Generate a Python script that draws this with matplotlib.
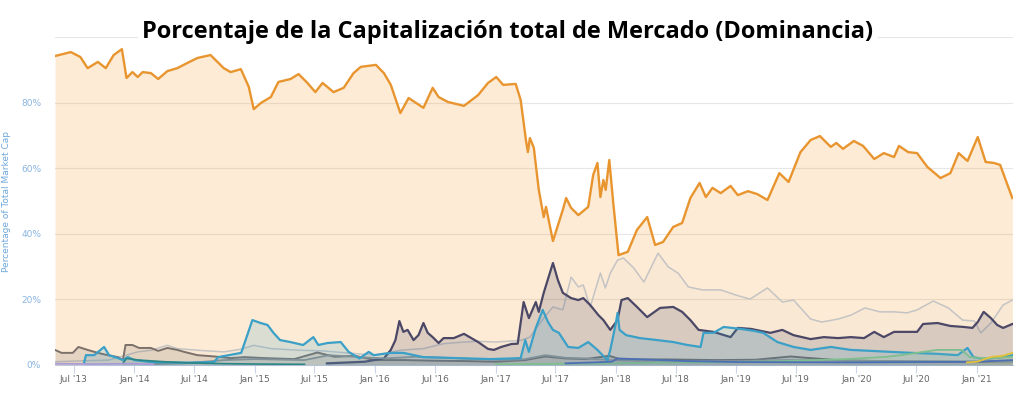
import numpy as np
import pandas as pd
import matplotlib
matplotlib.use("Agg")
import matplotlib.pyplot as plt
import matplotlib.dates as mdates

# Dominance (% of total market cap)
btc_dates = ["2013-05-05", "2013-06-22", "2013-07-21", "2013-08-12", "2013-09-12", "2013-10-06",
             "2013-10-30", "2013-11-24", "2013-12-08", "2013-12-26", "2014-01-11", "2014-01-26",
             "2014-02-20", "2014-03-14", "2014-04-11", "2014-05-11", "2014-06-11", "2014-07-11",
             "2014-08-20", "2014-09-29", "2014-10-20", "2014-11-20", "2014-12-14", "2014-12-29",
             "2015-01-20", "2015-02-19", "2015-03-14", "2015-04-20", "2015-05-14", "2015-06-10",
             "2015-07-04", "2015-07-26", "2015-08-28", "2015-09-28", "2015-10-28", "2015-11-19",
             "2016-01-04", "2016-01-19", "2016-01-28", "2016-02-18", "2016-03-18", "2016-04-12",
             "2016-05-27", "2016-06-24", "2016-07-12", "2016-08-09", "2016-09-27", "2016-11-09",
             "2016-12-09", "2017-01-03", "2017-01-24", "2017-03-03", "2017-03-18", "2017-04-03",
             "2017-04-09", "2017-04-15", "2017-04-27", "2017-05-12", "2017-05-27", "2017-06-03",
             "2017-06-24", "2017-07-24", "2017-08-03", "2017-08-18", "2017-09-09", "2017-10-09",
             "2017-10-24", "2017-11-06", "2017-11-15", "2017-11-24", "2017-12-01", "2017-12-12",
             "2017-12-24", "2018-01-09", "2018-02-06", "2018-03-06", "2018-04-06", "2018-04-30",
             "2018-05-24", "2018-06-24", "2018-07-21", "2018-08-15", "2018-09-12", "2018-10-01",
             "2018-10-21", "2018-11-15", "2018-12-15", "2019-01-06", "2019-02-06", "2019-03-06",
             "2019-04-06", "2019-05-12", "2019-06-09", "2019-07-15", "2019-08-15", "2019-09-12",
             "2019-10-15", "2019-11-01", "2019-11-21", "2019-12-24", "2020-01-21", "2020-02-24",
             "2020-03-24", "2020-04-24", "2020-05-09", "2020-06-06", "2020-07-03", "2020-08-03",
             "2020-09-12", "2020-10-12", "2020-11-06", "2020-12-03", "2021-01-03", "2021-01-27",
             "2021-02-21", "2021-03-12", "2021-04-18"]
btc_vals = [94.2, 95.4, 93.9, 90.5, 92.4, 90.5,
            94.5, 96.3, 87.5, 89.3, 87.8, 89.3,
            89.0, 87.2, 89.6, 90.5, 92.1, 93.6,
            94.5, 90.5, 89.3, 90.2, 84.8, 78.0,
            79.9, 81.7, 86.3, 87.2, 88.7, 86.0,
            83.2, 86.0, 83.2, 84.5, 89.0, 90.9,
            91.5, 89.9, 89.0, 85.4, 76.8, 81.4,
            78.4, 84.5, 81.7, 80.2, 79.0, 82.3,
            86.0, 87.8, 85.4, 85.7, 80.8, 68.6,
            64.9, 69.2, 66.2, 53.4, 45.1, 48.2,
            37.8, 47.3, 50.9, 47.9, 45.7, 48.2,
            57.9, 61.6, 51.2, 56.4, 53.4, 62.5,
            49.4, 33.5, 34.5, 41.2, 45.1, 36.6,
            37.5, 42.1, 43.3, 50.9, 55.5, 51.2,
            54.0, 52.4, 54.6, 51.8, 53.0, 52.1,
            50.3, 58.5, 55.8, 64.9, 68.6, 69.8,
            66.5, 67.7, 65.9, 68.3, 66.8, 62.8,
            64.6, 63.4, 66.8, 64.9, 64.6, 60.4,
            57.0, 58.5, 64.6, 62.2, 69.5, 61.9,
            61.6, 61.0, 50.9]

eth_dates = ["2015-08-08", "2015-12-01", "2016-01-28", "2016-02-18", "2016-03-03", "2016-03-15",
             "2016-03-27", "2016-04-09", "2016-04-27", "2016-05-12", "2016-05-27", "2016-06-09",
             "2016-06-24", "2016-07-12", "2016-07-27", "2016-08-27", "2016-09-27", "2016-11-09",
             "2016-12-09", "2016-12-27", "2017-01-18", "2017-02-18", "2017-03-09", "2017-03-27",
             "2017-04-12", "2017-05-03", "2017-05-12", "2017-05-27", "2017-06-24", "2017-07-09",
             "2017-07-24", "2017-08-18", "2017-09-09", "2017-09-24", "2017-10-15", "2017-11-09",
             "2017-11-24", "2017-12-15", "2018-01-06", "2018-01-18", "2018-02-06", "2018-03-06",
             "2018-04-06", "2018-05-15", "2018-06-24", "2018-07-21", "2018-08-15", "2018-09-09",
             "2018-10-24", "2018-12-15", "2019-01-06", "2019-02-15", "2019-04-15", "2019-05-21",
             "2019-06-24", "2019-08-15", "2019-09-24", "2019-11-06", "2019-12-15", "2020-01-24",
             "2020-02-24", "2020-03-24", "2020-04-24", "2020-06-06", "2020-07-03", "2020-07-21",
             "2020-09-03", "2020-10-12", "2020-11-21", "2020-12-18", "2021-01-03", "2021-01-21",
             "2021-02-12", "2021-03-03", "2021-03-21", "2021-04-18"]
eth_vals = [0.5, 1.0, 2.0, 4.6, 7.6, 13.4,
            10.1, 10.7, 7.6, 9.1, 12.8, 9.8,
            8.5, 6.7, 8.2, 8.2, 9.5, 7.0,
            4.9, 4.6, 5.5, 6.4, 6.5, 19.2,
            14.3, 19.2, 16.2, 22.0, 31.1, 25.9,
            22.0, 20.4, 19.8, 20.4, 18.3, 15.2,
            13.7, 10.7, 13.7, 19.8, 20.4, 17.7,
            14.6, 17.4, 17.7, 16.2, 13.7, 10.7,
            10.1, 8.5, 11.3, 11.0, 9.8, 10.7,
            9.1, 7.9, 8.5, 8.2, 8.5, 8.2,
            10.1, 8.5, 10.1, 10.1, 10.1, 12.5,
            12.8, 11.9, 11.6, 11.3, 13.1, 16.2,
            14.3, 12.2, 11.3, 12.5]

others_dates = ["2013-05-05", "2013-10-15", "2013-12-08", "2014-01-11", "2014-02-20", "2014-04-11",
                "2014-05-11", "2014-07-11", "2014-09-29", "2014-11-20", "2014-12-29", "2015-02-19",
                "2015-05-14", "2015-07-26", "2015-10-28", "2016-01-04", "2016-03-18", "2016-05-27",
                "2016-07-27", "2016-09-27", "2016-11-09", "2017-01-03", "2017-03-18", "2017-04-15",
                "2017-05-27", "2017-06-24", "2017-07-24", "2017-08-18", "2017-09-09", "2017-09-24",
                "2017-10-15", "2017-11-15", "2017-11-30", "2017-12-15", "2018-01-06", "2018-01-24",
                "2018-02-24", "2018-03-27", "2018-05-09", "2018-06-09", "2018-07-09", "2018-08-09",
                "2018-09-21", "2018-11-15", "2019-01-01", "2019-02-12", "2019-04-06", "2019-05-21",
                "2019-06-24", "2019-08-15", "2019-09-18", "2019-11-06", "2019-12-15", "2020-01-27",
                "2020-03-12", "2020-04-24", "2020-06-03", "2020-07-03", "2020-08-21", "2020-10-06",
                "2020-11-18", "2020-12-24", "2021-01-12", "2021-02-12", "2021-03-21", "2021-04-18"]
others_vals = [1.0, 1.5, 3.0, 4.0, 4.5, 6.0,
               5.0, 4.5, 4.0, 4.8, 6.0, 5.0,
               4.5, 4.3, 3.5, 3.0, 4.5, 5.0,
               6.5, 7.0, 7.2, 7.0, 7.5, 8.5,
               14.3, 17.7, 16.8, 26.8, 23.8, 24.4,
               17.7, 28.0, 23.5, 28.0, 32.0, 32.6,
               29.6, 25.3, 34.1, 29.9, 28.0, 23.8,
               22.9, 22.9, 21.3, 20.1, 23.5, 19.2,
               19.8, 14.0, 13.1, 14.0, 15.2, 17.4,
               16.2, 16.2, 15.9, 16.8, 19.5, 17.4,
               13.7, 13.4, 9.8, 12.8, 18.3, 19.8]

xrp_dates = ["2013-08-01", "2013-08-07", "2013-09-01", "2013-10-01", "2013-10-16", "2013-11-12",
             "2013-11-27", "2013-12-12", "2014-01-01", "2014-02-21", "2014-06-01", "2014-08-31",
             "2014-09-12", "2014-11-21", "2014-12-25", "2015-01-19", "2015-02-09", "2015-02-27",
             "2015-03-19", "2015-04-19", "2015-05-28", "2015-06-28", "2015-07-13", "2015-08-10",
             "2015-09-19", "2015-10-13", "2015-11-15", "2015-12-13", "2015-12-28", "2016-02-18",
             "2016-03-27", "2016-05-27", "2016-09-09", "2016-12-18", "2017-03-18", "2017-04-01",
             "2017-04-12", "2017-05-03", "2017-05-24", "2017-06-09", "2017-06-24", "2017-07-12",
             "2017-08-09", "2017-09-09", "2017-10-09", "2017-11-06", "2017-12-06", "2017-12-15",
             "2018-01-01", "2018-01-06", "2018-01-12", "2018-02-01", "2018-03-15", "2018-05-06",
             "2018-06-24", "2018-08-06", "2018-09-15", "2018-09-24", "2018-10-24", "2018-11-24",
             "2019-01-15", "2019-02-24", "2019-03-24", "2019-05-06", "2019-06-24", "2019-08-15",
             "2019-10-15", "2019-12-15", "2020-02-15", "2020-04-15", "2020-06-15", "2020-09-03",
             "2020-11-03", "2020-12-03", "2020-12-21", "2021-01-21", "2021-03-21", "2021-04-18"]
xrp_vals = [0.6, 3.0, 3.0, 5.5, 3.0, 2.1,
            1.5, 2.4, 1.5, 0.9, 0.7, 0.9,
            2.4, 3.7, 13.7, 12.8, 12.2, 9.8,
            7.6, 7.0, 6.1, 8.5, 6.1, 6.7,
            7.0, 4.0, 2.0, 4.0, 3.0, 3.7,
            3.7, 2.4, 2.1, 1.8, 2.1, 7.6,
            4.0, 11.3, 16.8, 13.1, 10.7, 9.8,
            5.5, 5.2, 7.0, 4.6, 1.5, 4.6,
            12.8, 15.9, 10.7, 9.1, 8.2, 7.6,
            7.0, 6.1, 5.5, 9.8, 9.8, 11.6,
            11.0, 10.4, 9.8, 7.0, 5.5, 4.6,
            5.5, 4.6, 4.3, 4.0, 3.7, 3.4,
            3.0, 5.2, 2.4, 1.8, 2.4, 3.0]

ltc_dates = ["2013-05-05", "2013-05-25", "2013-06-28", "2013-07-15", "2013-08-12", "2013-09-12",
             "2013-10-12", "2013-11-12", "2013-11-27", "2013-12-05", "2013-12-26", "2014-01-15",
             "2014-02-20", "2014-03-14", "2014-04-11", "2014-05-11", "2014-06-01", "2014-07-11",
             "2014-09-01", "2014-10-20", "2014-12-01", "2015-02-01", "2015-05-01", "2015-07-10",
             "2015-09-01", "2015-11-01", "2016-01-01", "2016-04-01", "2016-07-01", "2016-10-01",
             "2017-01-01", "2017-04-01", "2017-06-01", "2017-08-01", "2017-10-01", "2017-12-12",
             "2018-01-15", "2018-06-01", "2018-11-01", "2019-03-01", "2019-06-15", "2019-08-01",
             "2019-11-01", "2020-03-01", "2020-07-01", "2021-01-01", "2021-04-18"]
ltc_vals = [4.6, 3.7, 3.7, 5.5, 4.6, 3.7,
            3.0, 2.4, 1.5, 6.1, 6.1, 5.2,
            5.2, 4.3, 5.2, 4.6, 4.0, 3.0,
            2.6, 2.1, 2.4, 2.1, 1.8, 3.8,
            2.5, 2.8, 1.5, 1.5, 1.3, 1.2,
            1.0, 1.5, 2.6, 2.0, 1.8, 2.8,
            1.7, 1.7, 1.5, 1.6, 2.6, 2.2,
            1.5, 1.2, 1.0, 0.9, 1.2]

grey_dates = ["2014-03-01", "2014-06-01", "2014-10-01", "2015-01-01", "2015-06-01", "2015-08-15",
              "2015-11-01", "2016-02-01", "2016-05-01", "2016-08-01", "2016-11-01", "2017-02-01",
              "2017-04-01", "2017-06-01", "2017-08-01", "2017-10-01", "2017-12-15", "2018-03-01",
              "2018-08-01", "2019-01-01", "2019-06-01", "2019-12-01", "2020-06-01", "2021-04-18"]
grey_vals = [0.3, 0.5, 1.5, 1.8, 1.5, 3.0,
             2.5, 2.0, 2.5, 2.2, 1.8, 1.5,
             1.8, 3.0, 2.2, 2.0, 1.5, 1.3,
             1.2, 1.2, 1.5, 1.3, 1.2, 1.0]

usdt_dates = ["2017-01-01", "2018-01-01", "2018-06-01", "2019-01-01", "2019-06-01", "2019-12-01",
              "2020-04-01", "2020-05-15", "2020-07-01", "2020-09-01", "2020-11-15", "2020-12-10",
              "2021-01-21", "2021-04-18"]
usdt_vals = [0.2, 0.5, 0.8, 0.9, 1.2, 1.8,
             2.5, 3.0, 3.7, 4.6, 4.6, 2.4,
             2.1, 2.4]

bch_dates = ["2017-08-01", "2017-12-20", "2018-01-06", "2018-03-01", "2018-08-01", "2019-01-01",
             "2020-01-01", "2021-01-01", "2021-04-18"]
bch_vals = [0.5, 1.0, 2.0, 1.8, 1.2, 0.9, 0.8, 1.0, 1.5]

bnb_dates = ["2020-12-01", "2021-01-01", "2021-02-15", "2021-03-20", "2021-04-18"]
bnb_vals = [0.8, 1.0, 2.5, 2.8, 3.7]

ppc_dates = ["2013-11-27", "2013-12-08", "2014-01-15", "2014-04-01", "2014-07-01", "2014-10-01",
             "2015-01-01", "2015-06-01"]
ppc_vals = [0.5, 2.0, 1.5, 1.0, 0.6, 0.4, 0.3, 0.2]

nmc_dates = ["2013-05-05", "2013-09-01", "2014-01-01", "2014-03-01"]
nmc_vals = [0.4, 0.3, 0.4, 0.2]

tick_color = "#ccd6eb"

fig = plt.figure(figsize=(10.24, 3.95), dpi=100)
ax = fig.add_axes([55 / 1024, 1 - 365 / 395, (1013 - 55) / 1024, (365 - 37) / 395])


def area(dates, vals, color, lw, alpha, z):
    d = pd.to_datetime(dates)
    ax.fill_between(d, vals, 0, color=color, alpha=alpha, lw=0, zorder=z)
    ax.plot(d, vals, color=color, lw=lw, zorder=z + 0.5, solid_joinstyle="round")


area(btc_dates, btc_vals, "#f7a440", 0.0, 0.22, 2)
ax.plot(pd.to_datetime(btc_dates), btc_vals, color="#e8952f", lw=1.7, zorder=2.5)
area(others_dates, others_vals, "#c4c4c4", 1.1, 0.06, 3)
area(ltc_dates, ltc_vals, "#7b706a", 1.4, 0.18, 4)
area(eth_dates, eth_vals, "#4b4766", 1.6, 0.18, 5)
area(grey_dates, grey_vals, "#8f8f8f", 1.3, 0.10, 6)
area(xrp_dates, xrp_vals, "#3aa0c8", 1.6, 0.18, 7)
area(ppc_dates, ppc_vals, "#2c8585", 1.2, 0.10, 8)
area(usdt_dates, usdt_vals, "#7fbf8f", 1.3, 0.10, 8)
area(bch_dates, bch_vals, "#4d6fb5", 1.3, 0.10, 9)
area(bnb_dates, bnb_vals, "#e5c13b", 1.3, 0.10, 9)
area(nmc_dates, nmc_vals, "#a999d6", 1.2, 0.10, 9)

ax.set_xlim(pd.Timestamp("2013-05-05"), pd.Timestamp("2021-04-20"))
ax.set_ylim(0, 100)
ax.set_yticks([0, 20, 40, 60, 80, 100])
ax.set_yticklabels(["0%", "20%", "40%", "60%", "80%", ""])
ax.grid(axis="y", color="#e6e6e6", lw=0.8, zorder=1)
ax.set_axisbelow(True)

ax.xaxis.set_major_locator(mdates.MonthLocator(bymonth=[1, 7]))
ax.xaxis.set_major_formatter(mdates.DateFormatter("%b '%y"))

for s in ["top", "right", "left"]:
    ax.spines[s].set_visible(False)
ax.spines["bottom"].set_color(tick_color)
ax.tick_params(axis="x", colors=tick_color, length=6, width=0.8, labelsize=6.5,
               labelcolor="#666666", pad=1)
ax.tick_params(axis="y", length=0, labelsize=6.5, labelcolor="#8ab4e0", pad=10)

ax.set_ylabel("Percentage of Total Market Cap", fontsize=6.5, color="#6fa8dc", labelpad=6)
ax.yaxis.set_label_coords(-0.046, 0.5)

fig.text(508 / 1024, 1 - 38 / 395, "Porcentaje de la Capitalización total de Mercado (Dominancia)",
         ha="center", va="baseline", fontsize=17, fontweight="bold", family="Open Sans",
         color="black", zorder=20,
         bbox=dict(facecolor="white", edgecolor="none", pad=3))

fig.savefig("out.png", dpi=100)
